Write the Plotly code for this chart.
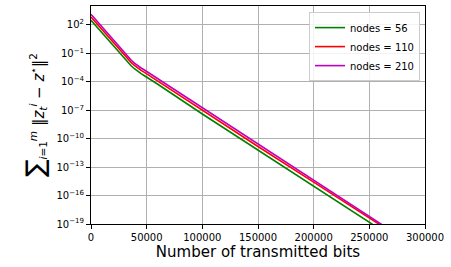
import plotly.graph_objects as go

# Number of transmitted bits
bits = [0, 10000, 20000, 30000, 33000, 36000, 39000, 42000, 45000, 48000, 51000,
        55000, 60000, 100000, 150000, 200000, 265000]

# sum of squared errors
err_56 = [3.2e2, 1.4e1, 6.3e-1, 2.8e-2, 1.17e-2, 5.0e-3, 2.4e-3, 1.26e-3, 7.2e-4,
          4.4e-4, 2.6e-4, 1.32e-4, 5.5e-5, 4.0e-8, 6.3e-12, 1.0e-15, 1.1e-20]
err_110 = [7.0e2, 3.2e1, 1.4e0, 6.3e-2, 2.6e-2, 1.12e-2, 5.4e-3, 2.8e-3, 1.6e-3,
           9.9e-4, 5.8e-4, 3.0e-4, 1.23e-4, 9.0e-8, 1.5e-11, 2.6e-15, 3.2e-20]
err_210 = [1.3e3, 5.6e1, 2.5e0, 1.1e-1, 4.7e-2, 2.0e-2, 9.6e-3, 5.0e-3, 2.9e-3,
           1.76e-3, 1.04e-3, 5.3e-4, 2.2e-4, 1.6e-7, 2.5e-11, 4.0e-15, 4.5e-20]

series = [("nodes = 56", err_56, "#008000"),
          ("nodes = 110", err_110, "#ff0000"),
          ("nodes = 210", err_210, "#bf00bf")]

x_ticks = [0, 50000, 100000, 150000, 200000, 250000, 300000]
y_exps = [2, -1, -4, -7, -10, -13, -16, -19]

fig = go.Figure()
for name, vals, color in series:
    fig.add_trace(go.Scatter(x=bits, y=vals, mode="lines", name=name,
                             line=dict(color=color, width=1.6)))

font = "DejaVu Sans"
ytitle = ("<span style='font-size:26px'>\u2211</span><sub><i>i</i>=1</sub><sup><i>m</i></sup> "
          "\u2016<i>z</i><sub><i>t</i></sub><sup><i>i</i></sup> \u2212 <i>z</i><sup>\u22c6</sup>\u2016<sup>2</sup>")

fig.update_layout(
    width=451, height=267,
    margin=dict(l=91, r=26, t=6, b=43),
    paper_bgcolor="white", plot_bgcolor="white",
    font=dict(family=font, size=10, color="black"),
    showlegend=True,
    legend=dict(x=0.985, y=0.972, xanchor="right", yanchor="top",
                bgcolor="rgba(255,255,255,0.85)", bordercolor="#cccccc",
                borderwidth=1, font=dict(size=10), itemwidth=30,
                tracegroupgap=0),
    xaxis=dict(range=[0, 300000], tickvals=x_ticks,
               ticktext=[str(v) for v in x_ticks],
               showgrid=True, gridcolor="#b0b0b0", gridwidth=0.8,
               showline=True, linecolor="black", linewidth=1, mirror=True,
               ticks="outside", ticklen=4, tickcolor="black",
               zeroline=False,
               title=dict(text="Number of transmitted bits",
                          font=dict(size=15), standoff=4)),
    yaxis=dict(type="log", range=[-19, 4],
               tickvals=[10 ** e for e in y_exps],
               ticktext=["10<sup>%s</sup>" % (str(e) if e >= 0 else "\u2212" + str(-e)) for e in y_exps],
               showgrid=True, gridcolor="#b0b0b0", gridwidth=0.8,
               showline=True, linecolor="black", linewidth=1, mirror=True,
               ticks="outside", ticklen=4, tickcolor="black",
               zeroline=False,
               title=dict(text=ytitle, font=dict(size=15), standoff=8)),
)

fig.write_html("out.html", config={"displayModeBar": False},
               post_script="document.body.style.margin='0';")
